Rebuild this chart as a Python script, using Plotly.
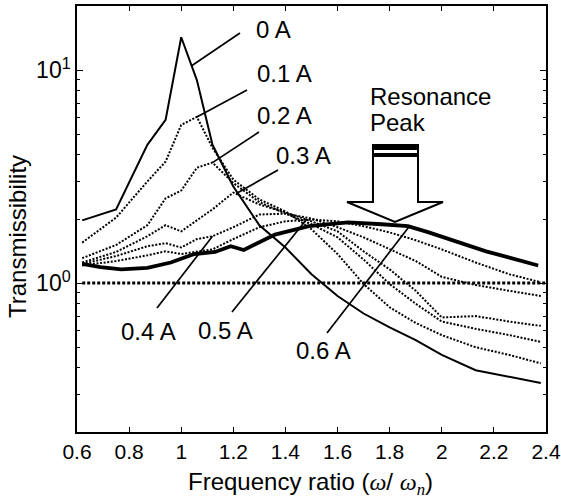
import numpy as np
import plotly.graph_objects as go

# ---------------- data ----------------
freq_0A = [0.62, 0.75, 0.87, 0.94, 1.00, 1.06, 1.12, 1.20, 1.30, 1.40, 1.50,
           1.60, 1.70, 1.80, 1.90, 2.00, 2.13, 2.38]
trans_0A = [1.97, 2.22, 4.46, 5.84, 14.27, 8.98, 4.46, 2.84, 1.87, 1.47, 1.10,
            0.87, 0.72, 0.62, 0.54, 0.46, 0.39, 0.34]

freq_mid = [0.62, 0.75, 0.87, 0.94, 1.00, 1.06, 1.12, 1.20, 1.30, 1.40, 1.50,
            1.60, 1.70, 1.80, 1.90, 2.00, 2.13, 2.26, 2.38]
trans_01A = [1.55, 2.03, 3.00, 3.72, 5.53, 6.03, 4.32, 3.06, 2.47, 2.17, 1.79,
             1.37, 0.99, 0.77, 0.65, 0.57, 0.50, 0.46, 0.42]
trans_02A = [1.31, 1.51, 1.87, 2.50, 2.72, 3.48, 3.68, 2.95, 2.40, 2.12, 1.89,
             1.64, 1.29, 0.99, 0.80, 0.66, 0.61, 0.57, 0.53]
trans_03A = [1.25, 1.40, 1.66, 1.87, 1.75, 1.97, 2.22, 2.66, 2.34, 2.15, 1.95,
             1.75, 1.41, 1.16, 0.92, 0.69, 0.70, 0.66, 0.63]
trans_04A = [1.23, 1.34, 1.49, 1.54, 1.47, 1.61, 1.66, 1.83, 2.10, 2.12, 2.01,
             1.83, 1.64, 1.44, 1.27, 1.07, 0.98, 0.92, 0.87]
trans_05A = [1.21, 1.27, 1.35, 1.41, 1.37, 1.40, 1.44, 1.61, 1.83, 1.95, 1.99,
             1.95, 1.85, 1.73, 1.59, 1.44, 1.25, 1.10, 1.01]

freq_06A = [0.62, 0.69, 0.77, 0.87, 0.96, 1.05, 1.13, 1.19, 1.24, 1.36, 1.49,
            1.64, 1.77, 1.87, 1.95, 2.17, 2.37]
trans_06A = [1.23, 1.19, 1.16, 1.18, 1.25, 1.37, 1.40, 1.49, 1.43, 1.69, 1.85,
             1.93, 1.89, 1.85, 1.73, 1.41, 1.21]

freq_ref = [0.62, 2.40]
trans_ref = [1.0, 1.0]

x_ticks = [0.6, 0.8, 1.0, 1.2, 1.4, 1.6, 1.8, 2.0, 2.2, 2.4]
x_tick_text = ["0.6", "0.8", "1", "1.2", "1.4", "1.6", "1.8", "2", "2.2", "2.4"]
y_ticks = [1, 10]
y_tick_text = ["10<sup>0</sup>", "10<sup>1</sup>"]
y_minor = [0.3, 0.4, 0.5, 0.6, 0.7, 0.8, 0.9, 2, 3, 4, 5, 6, 7, 8, 9]

X_RANGE = [0.6, 2.4]
Y_RANGE = [np.log10(0.2), np.log10(20)]

# ---------------- layout geometry ----------------
W, H = 561, 499
L, R, T, B = 77, 546, 6, 432
FONT = "Liberation Sans, Arial, sans-serif"
FS_TICK = 21
FS_TXT = 24


def paper_x(px):
    return (px - L) / (R - L)


def paper_y(py):
    return (B - py) / (B - T)


def data_to_px(x, y):
    px = L + (x - X_RANGE[0]) / (X_RANGE[1] - X_RANGE[0]) * (R - L)
    py = B - (np.log10(y) - Y_RANGE[0]) / (Y_RANGE[1] - Y_RANGE[0]) * (B - T)
    return px, py


fig = go.Figure()

DOT = "2px,1.6px"
fig.add_trace(go.Scatter(x=freq_ref, y=trans_ref, mode="lines",
                         line=dict(color="black", width=3, dash="3px,2px")))
for ys in [trans_01A, trans_02A, trans_03A, trans_04A, trans_05A]:
    fig.add_trace(go.Scatter(x=freq_mid, y=ys, mode="lines",
                             line=dict(color="black", width=2, dash=DOT)))
fig.add_trace(go.Scatter(x=freq_0A, y=trans_0A, mode="lines",
                         line=dict(color="black", width=2)))
fig.add_trace(go.Scatter(x=freq_06A, y=trans_06A, mode="lines",
                         line=dict(color="black", width=3.8)))

annotations = []
shapes = []

# curve labels (text centres in pixels)
labels = [("0 A", 273, 29), ("0.1 A", 284, 73), ("0.2 A", 284, 115),
          ("0.3 A", 303, 155), ("0.4 A", 148, 331), ("0.5 A", 225, 330),
          ("0.6 A", 323, 350)]
for txt, cx, cy in labels:
    annotations.append(dict(text=txt, x=paper_x(cx), y=paper_y(cy), xref="paper",
                            yref="paper", xanchor="center", yanchor="middle",
                            showarrow=False,
                            font=dict(size=FS_TXT, color="black", family=FONT)))

# leader lines: curve, target frequency, tail position (pixels)
pointers = [(freq_0A, trans_0A, 1.04, 240, 33),
            (freq_mid, trans_01A, 1.06, 247, 90),
            (freq_mid, trans_02A, 1.12, 259, 132),
            (freq_mid, trans_03A, 1.21, 278, 170),
            (freq_mid, trans_04A, 1.12, 157, 308),
            (freq_mid, trans_05A, 1.48, 232, 312),
            (freq_06A, trans_06A, 1.875, 327, 333)]
for fx, fy, tx, tpx, tpy in pointers:
    ly = np.interp(tx, fx, np.log10(fy))
    px, py = data_to_px(tx, 10 ** ly)
    shapes.append(dict(type="line", xref="paper", yref="paper",
                       x0=paper_x(tpx), y0=paper_y(tpy), x1=paper_x(px), y1=paper_y(py),
                       line=dict(color="black", width=1.7)))

annotations.append(dict(text="Resonance", x=paper_x(368), y=paper_y(97),
                        xref="paper", yref="paper", xanchor="left", yanchor="middle",
                        showarrow=False, font=dict(size=FS_TXT, color="black", family=FONT)))
annotations.append(dict(text="Peak", x=paper_x(368), y=paper_y(122),
                        xref="paper", yref="paper", xanchor="left", yanchor="middle",
                        showarrow=False, font=dict(size=FS_TXT, color="black", family=FONT)))

# axis titles
OMEGA = '<span style="font-family:Liberation Serif"><i>ω</i></span>'
OMEGA_N = '<span style="font-family:Liberation Serif"><i>ω<sub>n</sub></i></span>'
annotations.append(dict(text="Frequency ratio (" + OMEGA + "/ " + OMEGA_N + ")",
                        x=paper_x(186), y=paper_y(483), xref="paper", yref="paper",
                        xanchor="left", yanchor="middle", showarrow=False,
                        font=dict(size=FS_TXT, color="black", family=FONT)))
annotations.append(dict(text="Transmissibility", x=paper_x(18), y=paper_y(237),
                        xref="paper", yref="paper", xanchor="center", yanchor="middle",
                        textangle=-90, showarrow=False,
                        font=dict(size=FS_TXT, color="black", family=FONT)))


def P(px, py):
    return f"{paper_x(px):.4f},{paper_y(py):.4f}"


arrow_path = ("M " + P(373, 146) + " L " + P(418, 146) + " L " + P(418, 202) +
              " L " + P(443, 202) + " L " + P(395, 222) + " L " + P(347, 202) +
              " L " + P(373, 202) + " Z")
shapes += [
    dict(type="path", path=arrow_path, xref="paper", yref="paper",
         line=dict(color="black", width=2), fillcolor="white"),
    dict(type="rect", x0=paper_x(372), x1=paper_x(419), y0=paper_y(150), y1=paper_y(144),
         xref="paper", yref="paper", line=dict(width=0), fillcolor="black"),
    dict(type="rect", x0=paper_x(372), x1=paper_x(419), y0=paper_y(157), y1=paper_y(153),
         xref="paper", yref="paper", line=dict(width=0), fillcolor="black"),
]

fig.update_layout(
    width=W, height=H,
    margin=dict(l=L, r=W - R, t=T, b=H - B, pad=0, autoexpand=False),
    paper_bgcolor="white", plot_bgcolor="white",
    showlegend=False,
    annotations=annotations,
    shapes=shapes,
    font=dict(family=FONT, size=FS_TICK, color="black"),
    xaxis=dict(range=X_RANGE, tickvals=x_ticks, ticktext=x_tick_text,
               ticks="inside", ticklen=5, tickwidth=1.2, tickcolor="black",
               showline=True, linecolor="black", linewidth=1.5, mirror="ticks",
               showgrid=False, zeroline=False, ticklabeloverflow="allow",
               automargin=False,
               tickfont=dict(size=FS_TICK, color="black", family=FONT)),
    yaxis=dict(type="log", range=Y_RANGE, tickvals=y_ticks, ticktext=y_tick_text,
               ticks="inside", ticklen=6, tickwidth=1.2, tickcolor="black",
               showline=True, linecolor="black", linewidth=1.5, mirror="ticks",
               showgrid=False, zeroline=False, automargin=False,
               minor=dict(tickmode="array", tickvals=y_minor, ticks="inside",
                          ticklen=3, tickcolor="black", tickwidth=1, showgrid=False),
               tickfont=dict(size=23, color="black", family=FONT)),
)

fig.write_html("out.html")
